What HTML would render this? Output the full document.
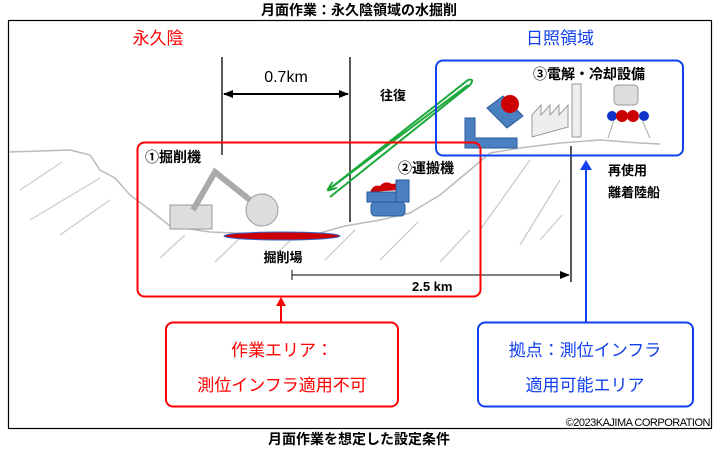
<!DOCTYPE html>
<html><head><meta charset="utf-8"><style>
body{margin:0;background:#fff;}
svg{display:block;font-family:"Liberation Sans","Noto Sans CJK JP",sans-serif;}
</style></head><body>
<svg width="718" height="450" viewBox="0 0 718 450">
<defs>
<marker id="ab" markerWidth="10" markerHeight="8" refX="9" refY="4" orient="auto" markerUnits="userSpaceOnUse"><path d="M0,0L10,4L0,8z" fill="#000"/></marker>
<marker id="ag" markerWidth="10" markerHeight="8" refX="9" refY="4" orient="auto" markerUnits="userSpaceOnUse"><path d="M0,0L10,4L0,8" fill="none" stroke="#1aa83a" stroke-width="2"/></marker>
</defs>
<text x="359" y="15" font-size="14" font-weight="bold" text-anchor="middle">月面作業：永久陰領域の水掘削</text>
<rect x="8.5" y="20.5" width="703" height="408" fill="none" stroke="#000" stroke-width="1.2"/>
<text x="158" y="44" font-size="17" fill="#f00" text-anchor="middle">永久陰</text>
<text x="560" y="44" font-size="17" fill="#1040f0" text-anchor="middle">日照領域</text>
<!-- terrain -->
<path d="M9,152 L70,150 L90,155 L100,170 L115,178 L130,195 L150,210 L170,226 L210,232 L260,234 L320,233 L345,226 L380,220 L410,213 L440,195 L470,170 L490,153 L520,148 L560,143 L600,140 L640,143 L660,144" fill="none" stroke="#bbb" stroke-width="1.5"/>
<g stroke="#ccc" stroke-width="1.3">
<line x1="20" y1="190" x2="62" y2="162"/><line x1="30" y1="220" x2="100" y2="178"/><line x1="60" y1="235" x2="110" y2="200"/>
<line x1="160" y1="258" x2="185" y2="235"/><line x1="215" y1="262" x2="240" y2="238"/><line x1="270" y1="260" x2="295" y2="236"/>
<line x1="325" y1="260" x2="355" y2="230"/><line x1="380" y1="260" x2="418" y2="222"/><line x1="440" y1="262" x2="470" y2="230"/>
<line x1="480" y1="230" x2="530" y2="160"/><line x1="520" y1="245" x2="560" y2="180"/><line x1="540" y1="240" x2="562" y2="215"/>
</g>
<!-- dims -->
<line x1="222" y1="57" x2="222" y2="155" stroke="#222" stroke-width="1.5"/>
<line x1="350" y1="57" x2="350" y2="222" stroke="#222" stroke-width="1.5"/>
<line x1="224" y1="94" x2="348" y2="94" stroke="#000" stroke-width="2" marker-end="url(#ab)"/>
<line x1="348" y1="94" x2="224" y2="94" stroke="#000" stroke-width="2" marker-end="url(#ab)"/>
<text x="286" y="82" font-size="16" text-anchor="middle">0.7km</text>
<text x="393" y="100" font-size="13" font-weight="bold" text-anchor="middle">往復</text>
<line x1="571" y1="146" x2="571" y2="282" stroke="#222" stroke-width="1.5"/>
<line x1="292" y1="275" x2="569" y2="275" stroke="#333" stroke-width="1.2" marker-end="url(#ab)"/>
<line x1="292" y1="270" x2="292" y2="280" stroke="#333" stroke-width="1.2"/>
<text x="412" y="291" font-size="13" font-weight="bold">2.5 km</text>
<!-- green arrows -->
<path d="M328,190 L468,80 Q475,78 470,85 L330,197" fill="none" stroke="#1aa83a" stroke-width="2"/>
<line x1="468" y1="85" x2="328" y2="190" stroke="#1aa83a" stroke-width="2" marker-end="url(#ag)"/>
<!-- excavator -->
<rect x="170" y="205" width="42" height="24" fill="#ddd" stroke="#999"/>
<path d="M193,210 L215,172 L250,200" fill="none" stroke="#aaa" stroke-width="6"/>
<circle cx="262" cy="210" r="16" fill="#ddd" stroke="#999"/>
<ellipse cx="282" cy="236" rx="58" ry="4" fill="#c00" stroke="#36c"/>
<text x="283" y="262" font-size="13" font-weight="bold" text-anchor="middle">掘削場</text>
<text x="145" y="162" font-size="14" font-weight="bold">①掘削機</text>
<!-- hauler -->
<path d="M370,192 q3,-8 10,-6 q5,-6 12,-2 q6,-2 8,6z" fill="#c00"/>
<rect x="367" y="192" width="42" height="10" fill="#4a7fc0" stroke="#2a5a9a"/>
<rect x="396" y="180" width="13" height="22" fill="#4a7fc0" stroke="#2a5a9a"/>
<rect x="371" y="202" width="34" height="14" rx="4" fill="#4a7fc0" stroke="#2a5a9a"/>
<text x="398" y="173" font-size="14" font-weight="bold">②運搬機</text>
<!-- blue top stuff -->
<path d="M465,118 h10 v20 h42 v10 h-52z" fill="#4a7fc0" stroke="#2a5a9a"/>
<path d="M487,108 l16,-12 l20,20 l-16,12z" fill="#4a7fc0" stroke="#2a5a9a"/>
<circle cx="510" cy="104" r="9" fill="#c00"/>
<path d="M532,137 v-22 l9,-10 v10 l9,-10 v10 l9,-10 v10 l9,-10 v22z" fill="#eee" stroke="#999"/>
<rect x="572" y="84" width="9" height="53" fill="#eee" stroke="#999"/>
<rect x="614" y="85" width="24" height="20" rx="4" fill="#ddd" stroke="#999"/>
<circle cx="612" cy="116" r="5" fill="#13c"/><circle cx="622" cy="116" r="6" fill="#c00"/><circle cx="633" cy="116" r="6" fill="#c00"/><circle cx="644" cy="116" r="5" fill="#13c"/>
<line x1="614" y1="120" x2="608" y2="138" stroke="#aaa"/><line x1="642" y1="120" x2="650" y2="138" stroke="#aaa"/>
<text x="533" y="79" font-size="14" font-weight="bold">③電解・冷却設備</text>
<text x="608" y="175" font-size="13" font-weight="bold">再使用</text>
<text x="608" y="197" font-size="13" font-weight="bold">離着陸船</text>
<!-- boxes -->
<rect x="137.5" y="142.5" width="343" height="154" rx="7" fill="none" stroke="#f00" stroke-width="2"/>
<rect x="436" y="60.5" width="247" height="95" rx="7" fill="none" stroke="#1040f0" stroke-width="2"/>
<line x1="281" y1="300" x2="281" y2="322" stroke="#f00" stroke-width="2"/>
<path d="M276,306 L281,297 L286,306z" fill="#f00"/>
<line x1="586" y1="168" x2="586" y2="322" stroke="#1040f0" stroke-width="2"/>
<path d="M580,170 L586,160 L592,170z" fill="#1040f0"/>
<rect x="166" y="322.5" width="232" height="84" rx="7" fill="#fff" stroke="#f00" stroke-width="2"/>
<text x="282" y="356" font-size="17" fill="#f00" text-anchor="middle">作業エリア：</text>
<text x="282" y="391" font-size="17" fill="#f00" text-anchor="middle">測位インフラ適用不可</text>
<rect x="478" y="322.5" width="215" height="84" rx="7" fill="#fff" stroke="#1040f0" stroke-width="2"/>
<text x="585" y="356" font-size="17" fill="#1040f0" text-anchor="middle">拠点：測位インフラ</text>
<text x="585" y="391" font-size="17" fill="#1040f0" text-anchor="middle">適用可能エリア</text>
<text x="710" y="426" font-size="11" text-anchor="end" letter-spacing="-0.5">©2023KAJIMA CORPORATION</text>
<text x="359" y="444" font-size="14" font-weight="bold" text-anchor="middle">月面作業を想定した設定条件</text>
</svg>
</body></html>
